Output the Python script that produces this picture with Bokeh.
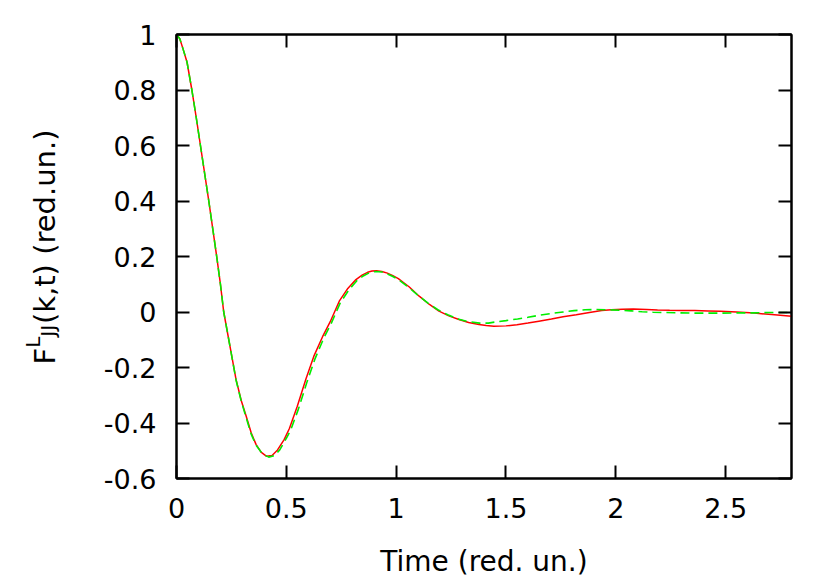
import math
from bokeh.plotting import figure
from bokeh.models import Range1d, LinearAxis, FixedTicker, NumeralTickFormatter, Label
from bokeh.embed import file_html
from bokeh.resources import INLINE

# ---- data ----
t_red = [0, 0.015, 0.029, 0.048, 0.07, 0.09, 0.109, 0.128, 0.147, 0.165, 0.183, 0.2, 0.215, 0.245,
         0.271, 0.295, 0.317, 0.34, 0.362, 0.385, 0.41, 0.435, 0.46, 0.49, 0.514, 0.55, 0.59, 0.625,
         0.665, 0.7, 0.741, 0.78, 0.817, 0.845, 0.87, 0.89, 0.91, 0.935, 0.96, 0.985, 1.01, 1.06,
         1.105, 1.15, 1.195, 1.24, 1.286, 1.33, 1.377, 1.41, 1.445, 1.5, 1.55, 1.6, 1.65, 1.707,
         1.76, 1.82, 1.88, 1.936, 1.98, 2.03, 2.08, 2.14, 2.19, 2.245, 2.3, 2.36, 2.42, 2.477,
         2.55, 2.63, 2.71, 2.8]
f_red = [1, 0.985, 0.95, 0.9, 0.8, 0.7, 0.6, 0.5, 0.4, 0.3, 0.2, 0.1, 0, -0.13,
         -0.243, -0.32, -0.375, -0.435, -0.477, -0.505, -0.52, -0.517, -0.497, -0.46, -0.42, -0.34, -0.24, -0.16,
         -0.089, -0.035, 0.039, 0.085, 0.117, 0.133, 0.143, 0.148, 0.149, 0.146, 0.14, 0.131, 0.12, 0.09,
         0.057, 0.028, 0.003, -0.014, -0.027, -0.038, -0.045, -0.049, -0.051, -0.05, -0.046, -0.04, -0.033, -0.025,
         -0.017, -0.01, -0.002, 0.005, 0.008, 0.010, 0.0105, 0.009, 0.007, 0.006, 0.0055, 0.005, 0.004, 0.003,
         0.0, -0.004, -0.009, -0.015]

t_green = [0, 0.015, 0.029, 0.048, 0.07, 0.09, 0.109, 0.128, 0.147, 0.165, 0.183, 0.2, 0.215, 0.245,
           0.271, 0.295, 0.317, 0.34, 0.362, 0.39, 0.42, 0.445, 0.47, 0.5, 0.52, 0.555, 0.595, 0.63,
           0.67, 0.705, 0.745, 0.785, 0.82, 0.85, 0.875, 0.905, 0.935, 0.96, 0.985, 1.01, 1.055, 1.1,
           1.145, 1.19, 1.235, 1.28, 1.33, 1.38, 1.42, 1.46, 1.5, 1.553, 1.6, 1.65, 1.7, 1.76,
           1.81, 1.86, 1.91, 1.97, 2.02, 2.07, 2.12, 2.17, 2.23, 2.29, 2.35, 2.4, 2.48, 2.55,
           2.63, 2.7, 2.8]
f_green = [1, 0.985, 0.95, 0.9, 0.8, 0.7, 0.6, 0.5, 0.4, 0.3, 0.2, 0.1, 0, -0.13,
           -0.245, -0.322, -0.38, -0.44, -0.48, -0.51, -0.523, -0.518, -0.497, -0.455, -0.425, -0.35, -0.25, -0.17,
           -0.095, -0.04, 0.032, 0.08, 0.112, 0.13, 0.14, 0.146, 0.144, 0.137, 0.128, 0.117, 0.09, 0.06,
           0.032, 0.008, -0.01, -0.025, -0.035, -0.04, -0.04, -0.035, -0.031, -0.025, -0.019, -0.012, -0.006, 0.0,
           0.005, 0.008, 0.009, 0.008, 0.006, 0.004, 0.001, -0.001, -0.002, -0.003, -0.004, -0.004, -0.004, -0.003,
           -0.003, -0.002, -0.002]

x_ticks = [0, 0.5, 1, 1.5, 2, 2.5]
y_ticks = [-0.6, -0.4, -0.2, 0, 0.2, 0.4, 0.6, 0.8, 1]
x_label = "Time (red. un.)"
y_label_main = "F\u2002 (k,t) (red.un.)"
y_label_sup = "L"
y_label_sub = "JJ"

FONT = "DejaVu Sans"
TICK_FS = "27px"
LABEL_FS = 29
SMALL_FS = 20

FRAME_LEFT, FRAME_TOP, FRAME_RIGHT, FRAME_BOTTOM = 176, 34, 791, 479
W, H = 800, 580

p = figure(width=W, height=H, x_range=Range1d(0, 2.8), y_range=Range1d(-0.6, 1),
           output_backend="svg", toolbar_location=None,
           min_border_left=FRAME_LEFT, min_border_right=W - FRAME_RIGHT,
           min_border_top=FRAME_TOP, min_border_bottom=H - FRAME_BOTTOM)
p.xgrid.visible = False
p.ygrid.visible = False
p.outline_line_color = "black"
p.outline_line_width = 2
p.background_fill_color = "white"
p.border_fill_color = "white"

p.line(t_red, f_red, line_color="#ff0000", line_width=1.5)
p.line(t_green, f_green, line_color="#00ee00", line_width=1.6, line_dash="9 5")


def style_axis(ax, ticks, show_labels, standoff=0):
    ax.ticker = FixedTicker(ticks=ticks)
    ax.formatter = NumeralTickFormatter(format="0.[0]")
    ax.major_tick_in = 13
    ax.major_tick_out = 0
    ax.minor_tick_line_color = None
    ax.major_tick_line_width = 2
    ax.axis_line_width = 2
    ax.axis_line_color = "black"
    ax.major_tick_line_color = "black"
    if show_labels:
        ax.major_label_text_font = FONT
        ax.major_label_text_font_size = TICK_FS
        ax.major_label_text_color = "black"
        ax.major_label_standoff = standoff
    else:
        ax.major_label_text_font_size = "0px"
        ax.major_label_text_alpha = 0
        ax.major_label_standoff = 0


style_axis(p.xaxis[0], x_ticks, True, 19)
style_axis(p.yaxis[0], y_ticks, True, 20)
p.xaxis[0].axis_label = x_label
p.xaxis[0].axis_label_text_font = FONT
p.xaxis[0].axis_label_text_font_size = "28px"
p.xaxis[0].axis_label_text_font_style = "normal"
p.xaxis[0].axis_label_standoff = 24
p.xaxis[0].axis_label_text_color = "black"

top = LinearAxis()
style_axis(top, x_ticks, False)
p.add_layout(top, "above")
right = LinearAxis()
style_axis(right, y_ticks, False)
p.add_layout(right, "right")

# y label: pieces placed in left side panels (stacked outward from the y axis)
axis_w = 1.951 * 27 + 20          # width of y-axis panel (tick labels + standoff)
main_w = 1.164 * LABEL_FS          # rotated text box widths
small_w = 1.164 * SMALL_FS
main_left = FRAME_LEFT - axis_w - main_w
sup_left = main_left - small_w
sub_left = sup_left - small_w

base_x = 48        # page x of main text baseline
start_y = 365      # page y where "F" starts
w_F = 0.575 * LABEL_FS
w_L = 0.557 * SMALL_FS

common = dict(x_units="screen", y_units="screen", angle=math.pi / 2, text_font=FONT,
              text_align="left", text_baseline="alphabetic", text_color="black")
p.add_layout(Label(x=base_x - main_left, y=FRAME_BOTTOM - start_y, text=y_label_main,
                   text_font_size=f"{LABEL_FS}px", **common), "left")
p.add_layout(Label(x=base_x - 11 - sup_left, y=FRAME_BOTTOM - (start_y - w_F), text=y_label_sup,
                   text_font_size=f"{SMALL_FS}px", **common), "left")
p.add_layout(Label(x=base_x + 5 - sub_left, y=FRAME_BOTTOM - (start_y - w_F - w_L), text=y_label_sub,
                   text_font_size=f"{SMALL_FS}px", **common), "left")

open("out.html", "w").write(file_html(p, INLINE))
